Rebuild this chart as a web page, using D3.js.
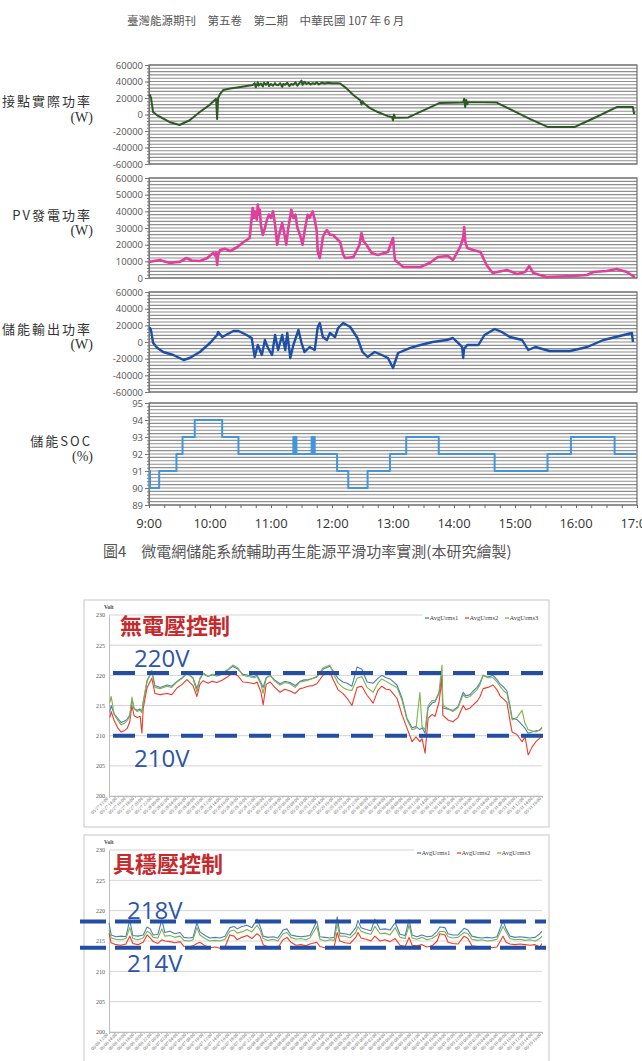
<!DOCTYPE html>
<html>
<head>
<meta charset="utf-8">
<script src="https://cdn.jsdelivr.net/npm/d3@7"></script>
<style>
  body { margin: 0; background: #fff; }
</style>
</head>
<body>
<svg id="page" width="642" height="1061"></svg>
<script>
// ---------- top figure: power smoothing, 9:00 - 17:00 ----------
const hourLabels = ["9:00", "10:00", "11:00", "12:00", "13:00", "14:00", "15:00", "16:00", "17:00"];

const gridTimes = ["9:00","9:01","9:02","9:04","9:08","9:11","9:20","9:30","9:40","9:50","10:00","10:06","10:07","10:08","10:10","10:13","10:20","10:30","10:42",
  "10:44","10:45","10:47","10:48","10:50","10:52","10:53","10:55","10:57","10:58","11:00","11:02","11:04","11:05","11:07","11:09","11:11","11:12","11:14","11:16",
  "11:18","11:20","11:22","11:24","11:26","11:28","11:30","11:31","11:33","11:35","11:37","11:39","11:41","11:43","11:45","11:47","11:50","11:53","11:56","12:00",
  "12:05","12:08","12:14","12:21","12:28","12:29","12:30","12:31","12:37","12:45","12:55","12:59","13:00","13:01","13:02","13:15","13:30","13:46","14:09","14:10",
  "14:11","14:12","14:13","14:14","14:42","15:00","15:15","15:32","15:59","16:20","16:40","16:56","16:57","16:58"];
const gridPower = [22000,23600,20000,3000,-1000,-3000,-9000,-12700,-7000,3000,12000,19000,-5400,20000,25000,29700,31500,33300,35700,
  38000,33000,39000,35000,37500,34000,38500,36000,39000,34500,37000,35000,38000,36000,35500,38000,33500,37000,36000,38500,
  34500,37000,36000,39000,35000,38000,41000,36000,39500,37000,38500,36500,38000,37000,39000,36500,38500,37500,38500,38000,
  38000,37500,32000,23600,17000,12000,16000,14000,8000,3000,-2000,-3000,-7000,0,-4000,-3500,5000,14000,14500,19000,
  9000,17500,12500,15000,14500,3500,-5500,-15000,-15000,-3000,9000,9000,1500,3000];

const pvTimes = ["9:00","9:05","9:11","9:16","9:21","9:26","9:30","9:37","9:42","9:50","9:57","10:03","10:05","10:06","10:07","10:08","10:10","10:15","10:20",
  "10:27","10:33","10:39","10:40","10:42","10:43","10:44","10:46","10:47","10:48","10:49","10:50","10:52","10:54","10:56","10:58","11:00","11:02","11:04","11:06",
  "11:08","11:11","11:13","11:15","11:17","11:20","11:22","11:24","11:26","11:29","11:31","11:33","11:36","11:38","11:41","11:43","11:45","11:46","11:48","11:50",
  "11:51","11:53","11:55","11:58","12:01","12:04","12:08","12:11","12:13","12:21","12:27","12:29","12:31","12:34","12:39","12:45","12:55","13:00","13:01","13:02",
  "13:10","13:27","13:36","13:44","13:54","13:59","14:06","14:09","14:10","14:11","14:13","14:19","14:26","14:32","14:38","14:52","15:02","15:10","15:14","15:18",
  "15:31","15:57","16:11","16:17","16:30","16:40","16:50","16:56","16:58"];
const pvPower = [9600,10200,10800,9800,9000,9500,9600,12000,10500,10200,11800,15000,13500,15500,7800,14000,16800,17500,16200,
  18600,21600,24000,30000,42000,36000,40000,35000,44000,38000,41000,32000,25800,30000,35000,38000,36000,40000,32000,20000,
  26000,33000,27000,20000,30000,41000,36000,38000,30000,25000,20000,28000,38000,36000,40000,35000,28000,15600,12000,20000,
  24600,27000,28800,26000,25800,24000,21600,14000,12000,12500,19800,27000,22000,19800,15000,13800,15600,24000,16000,10800,
  6600,6600,9000,12600,13200,10800,18600,24000,30600,22000,18000,16800,15600,7800,3000,4800,2400,3600,7200,3000,
  600,1200,1800,3600,4200,5400,3600,1200,500];

const essTimes = ["9:00","9:01","9:02","9:04","9:08","9:14","9:24","9:34","9:40","9:50","10:00","10:07","10:08","10:10","10:12","10:23","10:28","10:36","10:41",
  "10:44","10:47","10:51","10:54","10:57","11:01","11:04","11:07","11:11","11:14","11:16","11:19","11:22","11:27","11:30","11:33","11:38","11:43","11:46","11:48",
  "11:51","11:55","11:58","12:03","12:06","12:11","12:18","12:25","12:30","12:35","12:42","12:49","12:55","13:00","13:05","13:17","13:27","13:39","13:53","13:59",
  "14:04","14:08","14:09","14:10","14:13","14:24","14:30","14:40","14:47","14:55","15:07","15:13","15:20","15:34","15:54","16:11","16:27","16:43","16:55","16:56"];
const essPower = [16000,16800,14000,-1000,-7000,-12000,-15600,-21600,-19200,-12000,-1200,8400,12000,9000,6000,13200,13200,8400,4800,
  -18000,-3600,-15600,2400,-7000,-15600,8400,-9600,8400,-9600,10800,-19200,-3600,14400,-1000,-12000,-6000,-9600,18000,22800,
  6000,2400,10800,6000,16800,22800,18000,4800,-12000,-18000,-12000,-15600,-19200,-31200,-13200,-7000,-3600,0,2400,4800,
  -1000,-6000,-19200,-8000,-3600,-3600,8400,15600,12000,6000,2400,-9600,-6000,-10800,-10800,-6000,2400,7200,10800,0];

const socTimes = ["9:00","9:01","9:10","9:27","9:33","9:45","10:12","10:28","11:22","11:23","11:24","11:25","11:40","11:41","11:42","11:43",
  "12:05","12:16","12:35","12:57","13:13","13:45","14:40","15:32","15:55","16:38","16:59"];
const socValues = [91,90,91,92,93,94,93,92,93,92,93,92,93,92,93,92,91,90,91,92,93,92,91,92,93,92,92];

// ---------- bottom figure: phase voltages ----------
const phaseNames = ["AvgUrms1", "AvgUrms2", "AvgUrms3"];
const voltTicks = [200, 205, 210, 215, 220, 225, 230];

const noCtrlStart = "2018-05-27 12:00";
const noCtrlHours = [0.2,0.5,1.2,2.1,2.8,3.5,4.2,4.8,5.3,5.8,6.5,7.2,7.6,7.9,8.8,9.9,10.6,11.8,13.4,14.5,15.7,16.9,18.0,19.4,20.3,21.0,21.7,22.9,23.8,24.9,
  26.1,27.5,28.6,29.8,30.9,32.1,33.5,34.2,35.1,35.6,36.3,37.2,38.3,39.5,40.6,41.8,43.0,44.1,44.8,46.0,47.1,48.0,49.4,51.0,51.7,52.9,54.0,55.0,56.1,57.3,
  58.4,59.6,61.0,62.1,63.0,64.0,64.9,66.5,67.7,68.8,70.0,70.9,71.8,72.3,73.0,73.7,74.6,75.3,76.2,76.9,77.1,78.3,79.4,80.6,81.8,82.4,83.4,84.1,85.0,85.7,
  86.4,87.5,88.7,89.6,90.3,91.2,91.9,92.6,93.1,94.2,95.4,96.1,96.8,97.7,98.6,99.5,100.0];
const noCtrlU1 = [214.0,215.0,213.6,212.8,212.2,212.4,212.7,213.4,216.0,214.5,214.2,214.4,214.0,215.5,219.0,220.8,218.3,218.0,218.4,218.2,219.0,219.6,220.3,219.6,217.8,219.4,220.3,219.8,220.1,219.9,
  220.2,220.9,221.5,221.0,220.2,220.0,219.8,220.0,218.8,218.0,219.6,220.0,219.2,218.6,219.0,218.8,218.3,219.0,219.2,219.3,219.5,219.8,221.0,221.5,220.8,219.5,218.9,218.7,218.2,221.4,
  221.0,218.9,218.7,219.5,220.0,219.6,219.4,218.4,216.2,212.9,211.3,211.5,211.0,211.3,210.4,214.6,215.4,215.6,217.0,220.0,214.6,214.4,214.2,214.8,217.2,216.6,216.8,217.4,218.0,218.8,
  220.0,219.7,220.0,219.3,218.6,218.0,217.4,215.0,212.9,212.7,211.8,211.2,210.4,210.6,210.8,210.9,211.3];
const noCtrlU2 = [213.0,214.0,212.5,211.2,210.6,210.8,211.2,212.3,215.0,213.3,213.0,213.2,210.4,214.5,218.0,219.5,217.0,216.8,217.0,216.8,217.9,218.5,219.3,218.3,216.5,218.5,219.1,218.7,219.0,218.8,
  219.2,219.8,220.4,219.9,218.9,218.8,218.6,218.9,217.2,215.1,218.5,218.9,218.0,217.2,217.7,217.4,217.0,217.8,217.9,218.2,218.3,218.6,220.0,220.6,219.4,217.6,217.0,216.2,215.0,218.0,
  218.2,216.7,215.4,217.5,218.2,217.7,217.6,216.2,213.4,211.3,209.0,209.8,209.0,209.5,207.1,212.9,213.5,213.2,215.5,219.4,213.4,212.6,212.3,213.0,215.0,214.3,214.6,215.1,215.7,216.5,
  217.8,218.0,218.4,217.6,216.6,216.0,215.5,212.5,210.6,210.2,209.0,209.8,206.8,208.1,209.0,209.6,209.8];
const noCtrlU3 = [215.5,216.5,213.5,212.5,211.8,212.0,212.5,213.2,216.4,214.5,214.0,214.2,213.8,215.6,219.2,220.5,218.0,217.8,218.2,218.0,218.9,219.5,220.4,219.5,217.2,219.5,220.4,219.8,220.2,220.0,
  220.3,221.0,221.7,221.2,220.0,219.8,219.6,219.8,218.5,217.0,219.5,220.0,219.0,218.4,218.8,218.6,218.0,218.9,219.0,219.2,219.5,219.7,221.2,221.7,220.5,218.7,218.0,217.6,217.5,219.5,
  219.8,218.0,217.2,218.7,219.4,219.0,218.6,218.0,215.8,212.7,211.0,211.2,217.2,211.5,211.0,215.0,215.8,215.8,217.2,221.7,215.0,214.5,214.0,214.6,216.8,216.3,216.5,217.0,217.6,218.5,
  220.0,219.6,219.6,218.9,218.2,217.4,217.0,214.5,212.6,213.0,214.2,212.0,211.0,210.8,210.6,211.0,211.4];
const noCtrlLimits = [220.4, 210];
const noCtrlLimitLabels = ["220V", "210V"];

const regStart = "2018-06-06 12:00";
const regHours = [0,0.5,1.6,2.8,3.9,4.8,5.5,6.7,7.9,8.8,9.5,10.2,11.3,12.2,12.9,14.1,15.2,16.4,17.3,18.5,19.4,20.3,21.0,22.2,23.3,24.5,25.6,26.8,27.9,28.9,
  29.6,30.7,31.9,33.0,34.2,34.9,35.6,36.7,37.9,39.0,40.2,41.1,42.0,43.2,44.3,45.5,46.4,48.0,48.7,49.9,51.0,52.0,52.7,53.3,54.5,55.7,57.0,57.5,58.2,59.4,
  60.5,61.4,62.6,63.7,64.9,66.1,67.2,68.4,69.3,70.0,71.1,72.3,73.4,74.6,75.8,76.4,77.6,78.3,79.4,80.6,82.0,82.9,83.8,85.0,86.1,87.3,88.5,89.6,91.0,91.7,
  92.6,93.8,94.9,96.1,97.2,98.4,99.5,100];
const regU1 = [218.0,216.0,215.7,215.8,215.7,218.5,215.9,215.8,216.0,217.3,217.0,216.0,216.1,218.5,216.4,216.6,216.2,216.4,215.6,215.5,215.6,218.0,216.5,215.9,215.5,215.6,215.5,215.8,217.2,217.4,
  217.0,217.4,217.6,217.2,218.6,217.4,215.8,215.6,215.7,215.5,216.8,217.0,216.0,215.8,215.7,215.8,215.9,218.3,215.7,215.6,215.5,215.6,219.0,216.3,216.2,216.0,217.2,218.4,217.2,216.9,
  216.7,218.6,216.9,217.0,216.8,218.0,216.1,215.9,218.5,216.0,215.7,216.0,215.7,215.8,216.6,217.3,217.2,216.2,216.0,216.0,217.1,216.8,215.8,215.6,215.5,215.6,215.5,215.7,218.3,217.0,
  215.8,215.6,215.7,215.6,215.5,215.6,216.2,216.6];
const regU2 = [216.3,214.7,214.4,214.3,214.5,215.8,214.6,214.4,214.8,216.0,215.5,214.9,214.6,215.2,215.0,214.9,214.7,214.9,214.1,214.0,214.2,214.6,214.8,214.2,213.9,214.0,213.8,214.0,216.0,215.8,
  215.2,215.6,215.9,215.4,216.2,215.8,214.4,214.0,214.1,213.9,215.2,215.6,214.8,214.3,214.4,214.2,214.5,214.8,214.1,213.9,214.0,214.0,216.4,215.0,214.7,214.6,215.6,216.4,215.5,215.3,
  215.0,215.8,215.0,215.2,214.9,215.4,214.3,214.1,215.6,214.3,214.2,214.4,214.0,214.2,215.0,216.2,216.0,214.8,214.6,214.5,215.8,215.4,214.2,214.1,214.0,214.1,213.9,214.0,215.8,214.8,
  214.5,214.4,214.5,214.4,214.3,214.4,214.0,214.6];
const regU3 = [216.8,215.5,215.3,215.2,215.4,217.2,215.4,215.2,215.5,216.6,216.3,215.6,215.5,217.0,215.8,215.9,215.6,215.8,215.1,215.0,215.2,217.2,216.0,215.4,215.0,215.1,215.0,215.3,216.6,216.8,
  216.3,216.5,216.9,216.5,217.6,216.8,215.4,215.1,215.3,215.0,216.2,216.4,215.6,215.3,215.4,215.2,215.5,217.4,215.3,215.0,215.2,215.1,217.8,215.8,215.8,215.5,216.4,217.4,216.6,216.3,
  216.1,217.4,216.2,216.3,216.0,217.2,215.6,215.4,217.6,215.5,215.3,215.6,215.2,215.4,216.0,216.6,216.5,215.7,215.5,215.6,216.4,216.2,215.3,215.1,215.2,215.0,215.1,215.3,217.4,216.5,
  215.4,215.2,215.3,215.1,215.2,215.0,215.4,215.8];
const regLimits = [218.2, 213.9];
const regLimitLabels = ["218V", "214V"];

// ---------- drawing ----------
const svg = d3.select("#page");
svg.append("rect").attr("width", 642).attr("height", 1061).attr("fill", "#fff");

const cjk = "'Noto Sans CJK TC', 'Noto Sans', sans-serif";
const serif = "'Liberation Serif', 'DejaVu Serif', serif";
const sans = "'Open Sans', 'Noto Sans', sans-serif";

svg.append("text")
    .attr("x", 127).attr("y", 25)
    .attr("font-family", cjk).attr("font-size", 11.5).attr("fill", "#555")
    .text("臺灣能源期刊　第五卷　第二期　中華民國 107 年 6 月");

const parseHM = d3.timeParse("%H:%M");
const x = d3.scaleTime()
    .domain([parseHM(hourLabels[0]), parseHM(hourLabels[hourLabels.length - 1])])
    .range([149, 637]);

const panels = [
    { top: 65, bottom: 164, min: -60000, max: 60000, step: 20000, times: gridTimes, values: gridPower,
      color: "#2d5a24", width: 2, title: "接點實際功率", unit: "(W)", curve: d3.curveLinear },
    { top: 178, bottom: 278, min: 0, max: 60000, step: 10000, times: pvTimes, values: pvPower,
      color: "#e0409c", width: 2.6, title: "PV發電功率", unit: "(W)", curve: d3.curveLinear },
    { top: 292, bottom: 392, min: -60000, max: 60000, step: 20000, times: essTimes, values: essPower,
      color: "#1d4fa6", width: 2.4, title: "儲能輸出功率", unit: "(W)", curve: d3.curveLinear },
    { top: 403, bottom: 505, min: 89, max: 95, step: 1, times: socTimes, values: socValues,
      color: "#4296dc", width: 2, title: "儲能SOC", unit: "(%)", curve: d3.curveStepAfter }
];

panels.forEach((p, i) => {
    const y = d3.scaleLinear().domain([p.min, p.max]).range([p.bottom, p.top]);
    const g = svg.append("g").attr("class", "panel");
    const minor = d3.range(0, 31).map(k => p.min + k * (p.max - p.min) / 30);
    const major = d3.range(p.min, p.max + p.step / 2, p.step);

    g.selectAll("line.grid")
        .data(minor)
        .enter().append("line")
        .attr("class", "grid")
        .attr("x1", x.range()[0]).attr("x2", x.range()[1])
        .attr("y1", d => y(d)).attr("y2", d => y(d))
        .attr("stroke", "#8e8e8e").attr("stroke-width", 1.1);

    g.append("rect")
        .attr("x", x.range()[0]).attr("y", p.top)
        .attr("width", x.range()[1] - x.range()[0]).attr("height", p.bottom - p.top)
        .attr("fill", "none").attr("stroke", "#6f6f6f").attr("stroke-width", 1.2);

    // minor ticks
    g.append("g")
        .attr("transform", `translate(${x.range()[0]},0)`)
        .call(d3.axisLeft(y).tickValues(minor).tickSize(2).tickFormat(""))
        .call(a => a.select(".domain").remove())
        .selectAll("line").attr("stroke", "#777");

    const axis = g.append("g")
        .attr("transform", `translate(${x.range()[0]},0)`)
        .call(d3.axisLeft(y).tickValues(major).tickSize(4).tickPadding(2).tickFormat(d => String(d)));
    axis.select(".domain").attr("stroke", "#777");
    axis.selectAll("line").attr("stroke", "#777");
    axis.selectAll("text")
        .attr("font-family", sans).attr("font-size", 9.5).attr("fill", "#555");

    const line = d3.line()
        .x((d, k) => x(parseHM(p.times[k])))
        .y(d => y(d))
        .curve(p.curve);

    g.append("path")
        .datum(p.values)
        .attr("d", line)
        .attr("fill", "none")
        .attr("stroke", p.color)
        .attr("stroke-width", p.width)
        .attr("stroke-linejoin", "round");

    const mid = (p.top + p.bottom) / 2;
    g.append("text")
        .attr("x", 92).attr("y", mid - 12)
        .attr("text-anchor", "end").attr("dominant-baseline", "middle")
        .attr("font-family", cjk).attr("font-size", 13).attr("letter-spacing", 2).attr("fill", "#333")
        .text(p.title);
    g.append("text")
        .attr("x", 93).attr("y", mid + 4)
        .attr("text-anchor", "end").attr("dominant-baseline", "middle")
        .attr("font-family", serif).attr("font-size", 14).attr("fill", "#333")
        .text(p.unit);

    if (i === panels.length - 1) {
        const quarters = d3.timeMinute.every(15).range(x.domain()[0], d3.timeMinute.offset(x.domain()[1], 1));
        const xa = g.append("g")
            .attr("transform", `translate(0,${p.bottom})`)
            .call(d3.axisBottom(x).tickValues(quarters).tickSize(3).tickFormat(""));
        xa.select(".domain").remove();
        xa.selectAll("line").attr("stroke", "#666");

        g.selectAll("text.hour")
            .data(hourLabels)
            .enter().append("text")
            .attr("class", "hour")
            .attr("x", d => x(parseHM(d)))
            .attr("y", 528)
            .attr("text-anchor", "middle")
            .attr("font-family", sans).attr("font-size", 13).attr("fill", "#333")
            .text(d => d);
    }
});

svg.append("text")
    .attr("x", 103).attr("y", 557)
    .attr("font-family", cjk).attr("font-size", 15).attr("fill", "#555")
    .text("圖4　微電網儲能系統輔助再生能源平滑功率實測(本研究繪製)");

// ---------- voltage charts ----------
const phaseColors = ["#4a7ebb", "#ee3b2b", "#7fb24a"];
const parseDT = d3.timeParse("%Y-%m-%d %H:%M");
const fmtDT = d3.timeFormat("%m/%d %H:%M");

function drawVoltChart(cfg) {
    const g = svg.append("g");
    const start = parseDT(cfg.start);
    const end = d3.timeHour.offset(start, 100);
    const xs = d3.scaleTime().domain([start, end]).range([109, 542]);
    const ys = d3.scaleLinear().domain([200, 230]).range([cfg.bottom, cfg.top]);

    g.append("rect")
        .attr("x", 84).attr("y", cfg.frameTop)
        .attr("width", 465).attr("height", cfg.frameBottom - cfg.frameTop)
        .attr("fill", "#fff").attr("stroke", "#cfcfcf").attr("stroke-width", 1.2);

    g.selectAll("line.vgrid")
        .data(voltTicks)
        .enter().append("line")
        .attr("x1", 109).attr("x2", 542)
        .attr("y1", d => ys(d)).attr("y2", d => ys(d))
        .attr("stroke", "#d4d4d4").attr("stroke-width", 1);

    const ya = g.append("g")
        .attr("transform", "translate(109,0)")
        .call(d3.axisLeft(ys).tickValues(voltTicks).tickSize(0).tickPadding(4));
    ya.select(".domain").attr("stroke", "#bdbdbd");
    ya.selectAll("text").attr("font-family", serif).attr("font-size", 6).attr("fill", "#555");

    const xa = g.append("g")
        .attr("transform", `translate(0,${cfg.bottom})`)
        .call(d3.axisBottom(xs).ticks(d3.timeHour.every(2)).tickSize(2).tickFormat(fmtDT));
    xa.select(".domain").attr("stroke", "#bdbdbd");
    xa.selectAll("line").attr("stroke", "#bdbdbd");
    xa.selectAll("text")
        .attr("font-family", serif).attr("font-size", 4.6).attr("fill", "#555")
        .attr("text-anchor", "end")
        .attr("transform", "translate(-2,2) rotate(-45)")
        .attr("dy", "0.3em").attr("y", 0);

    g.append("text")
        .attr("x", 104).attr("y", cfg.top - 6)
        .attr("font-family", serif).attr("font-size", 5.5).attr("font-weight", "bold").attr("fill", "#444")
        .text("Volt");

    const line = d3.line()
        .x((d, k) => xs(new Date(start.getTime() + cfg.hours[k] * 3600e3)))
        .y(d => ys(d));

    cfg.series.forEach((vals, k) => {
        g.append("path")
            .datum(vals)
            .attr("d", line)
            .attr("fill", "none")
            .attr("stroke", phaseColors[k])
            .attr("stroke-width", 1.1)
            .attr("stroke-linejoin", "round");
    });

    // legend
    const lg = g.append("g").attr("transform", `translate(${cfg.legendX},${cfg.top + 3})`);
    lg.append("rect").attr("x", -3).attr("y", -5).attr("width", 545 - cfg.legendX).attr("height", 9).attr("fill", "#fff");
    phaseNames.forEach((name, k) => {
        const item = lg.append("g").attr("transform", `translate(${k * 40},0)`);
        item.append("line").attr("x1", 0).attr("x2", 4).attr("y1", 0).attr("y2", 0)
            .attr("stroke", phaseColors[k]).attr("stroke-width", 1.3);
        item.append("text").attr("x", 4.5).attr("y", 2.2)
            .attr("font-family", serif).attr("font-size", 6.6).attr("fill", "#444")
            .text(name);
    });

    // limit lines
    cfg.limits.forEach((v, k) => {
        g.append("line")
            .attr("x1", cfg.dashX[0]).attr("x2", cfg.dashX[1])
            .attr("y1", ys(v)).attr("y2", ys(v))
            .attr("stroke", "#234ea3").attr("stroke-width", 4)
            .attr("stroke-dasharray", cfg.dash);
        g.append("text")
            .attr("x", cfg.labelX).attr("y", ys(v) + cfg.labelDy[k])
            .attr("font-family", sans).attr("font-size", 24).attr("fill", "#2d55a8")
            .text(cfg.limitLabels[k]);
    });

    g.append("text")
        .attr("x", cfg.titleX).attr("y", cfg.titleY)
        .attr("font-family", cjk).attr("font-size", 22).attr("font-weight", "bold").attr("fill", "#c62a2c")
        .text(cfg.title);
}

drawVoltChart({
    start: noCtrlStart, hours: noCtrlHours, series: [noCtrlU1, noCtrlU2, noCtrlU3],
    top: 615, bottom: 796, frameTop: 600, frameBottom: 827,
    limits: noCtrlLimits, limitLabels: noCtrlLimitLabels, labelDy: [-6, 31],
    labelX: 134, dashX: [113, 549], dash: "22,12",
    title: "無電壓控制", titleX: 120, titleY: 634, legendX: 425
});

drawVoltChart({
    start: regStart, hours: regHours, series: [regU1, regU2, regU3],
    top: 850, bottom: 1032, frameTop: 835, frameBottom: 1075,
    limits: regLimits, limitLabels: regLimitLabels, labelDy: [-3, 24],
    labelX: 127, dashX: [80, 546], dash: "26,9",
    title: "具穩壓控制", titleX: 113, titleY: 872, legendX: 417
});
</script>
</body>
</html>
